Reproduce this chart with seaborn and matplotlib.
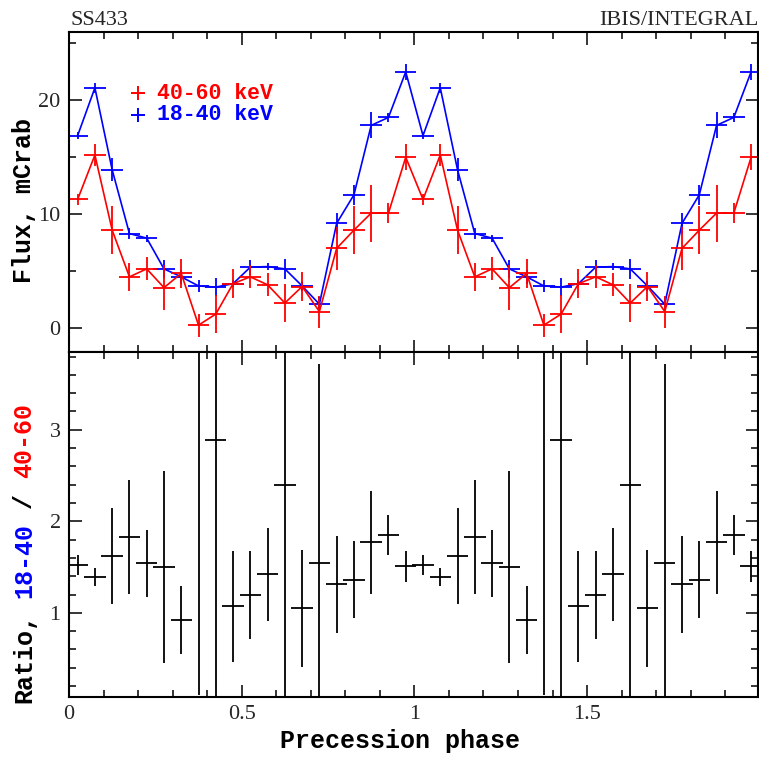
import numpy as np
import pandas as pd
import matplotlib
matplotlib.use("Agg")
import matplotlib.pyplot as plt
import seaborn as sns
from matplotlib.ticker import MultipleLocator, FixedLocator

# ---- data (one precession cycle, 20 phase bins; plotted twice) ----
phase = [0.025, 0.075, 0.125, 0.175, 0.225, 0.275, 0.325, 0.375, 0.425, 0.475,
         0.525, 0.575, 0.625, 0.675, 0.725, 0.775, 0.825, 0.875, 0.925, 0.975]
flux_40_60 = [11.3, 15.2, 8.6, 4.5, 5.2, 3.55, 4.8, 0.26, 1.23, 3.9,
              4.5, 3.8, 2.2, 3.65, 1.45, 7.0, 8.6, 10.1, 10.1, 15.0]
flux_40_60_err = [0.5, 1.0, 2.1, 1.2, 1.0, 1.95, 1.3, 1.0, 1.7, 1.3,
                  1.0, 1.0, 1.7, 1.3, 1.4, 1.9, 2.1, 2.5, 0.9, 1.15]
flux_18_40 = [16.9, 21.1, 13.9, 8.3, 7.9, 5.2, 4.5, 3.7, 3.6, 3.9,
              5.35, 5.4, 5.2, 3.7, 2.1, 9.2, 11.7, 17.8, 18.5, 22.5]
flux_18_40_err = [0.3, 0.45, 1.0, 0.5, 0.3, 0.8, 0.6, 0.5, 0.8, 0.3,
                  0.65, 0.3, 0.85, 0.4, 0.65, 0.9, 0.9, 1.15, 0.4, 0.7]
ratio = [1.52, 1.39, 1.62, 1.83, 1.54, 1.50, 0.92, 14.0, 2.89, 1.07,
         1.19, 1.42, 2.40, 1.05, 1.54, 1.31, 1.36, 1.77, 1.85, 1.51]
ratio_err = [0.11, 0.10, 0.52, 0.62, 0.37, 1.05, 0.37, 13.9, 3.0, 0.61,
             0.48, 0.51, 2.5, 0.64, 2.18, 0.53, 0.42, 0.56, 0.215, 0.17]
bin_half_width = 0.031

x_ticks = [0, 0.5, 1, 1.5]
x_tick_labels = ["0", "0.5", "1", "1.5"]
flux_ticks = [0, 10, 20]
ratio_ticks = [1, 2, 3]

# two cycles
ph2 = phase + [p + 1 for p in phase]
df = pd.DataFrame({
    "phase": ph2,
    "hard": flux_40_60 * 2, "hard_err": flux_40_60_err * 2,
    "soft": flux_18_40 * 2, "soft_err": flux_18_40_err * 2,
    "ratio": ratio * 2, "ratio_err": ratio_err * 2,
})

sns.set_theme(style="ticks")
plt.rcParams["font.family"] = ["Liberation Serif", "DejaVu Serif"]
plt.rcParams["axes.linewidth"] = 1.5

W, H = 759, 757
fig = plt.figure(figsize=(W / 100, H / 100), dpi=100)
fig.patch.set_facecolor("white")

L, R = 69, 758
ax1 = fig.add_axes([L / W, 1 - 352 / H, (R - L) / W, (352 - 32) / H])
ax2 = fig.add_axes([L / W, 1 - 697 / H, (R - L) / W, (697 - 352) / H])

RED, BLUE = "#ff0000", "#0000ff"

# upper panel
for col, c in (("soft", BLUE), ("hard", RED)):
    sns.lineplot(data=df, x="phase", y=col, color=c, lw=1.2, ax=ax1,
                 estimator=None, sort=True, legend=False)
    ax1.errorbar(df["phase"], df[col], yerr=df[col + "_err"], xerr=bin_half_width,
                 fmt="none", ecolor=c, elinewidth=1.3, capsize=0)

# lower panel
ax2.errorbar(df["phase"], df["ratio"], yerr=df["ratio_err"], xerr=bin_half_width,
             fmt="none", ecolor="black", elinewidth=1.3, capsize=0)

ax1.set_xlim(0, 1.995)
ax2.set_xlim(0, 1.995)
ax1.set_ylim(-2.1, 26)
ax2.set_ylim(0.08, 3.85)

for ax in (ax1, ax2):
    ax.set_xlabel("")
    ax.set_ylabel("")
    ax.xaxis.set_major_locator(FixedLocator(x_ticks))
    ax.xaxis.set_minor_locator(MultipleLocator(0.1))
    ax.tick_params(which="both", direction="in", top=True, right=True,
                   bottom=True, left=True, width=1.1, color="black")
    ax.tick_params(which="major", length=9)
    ax.tick_params(which="minor", length=5)
    ax.tick_params(labelsize=16, pad=6)
    for s in ax.spines.values():
        s.set_visible(True)
        s.set_color("black")
        s.set_linewidth(1.5)

ax1.yaxis.set_major_locator(FixedLocator(flux_ticks))
ax1.yaxis.set_minor_locator(MultipleLocator(5))
ax1.set_yticklabels([str(t) for t in flux_ticks])
ax1.tick_params(labelbottom=False)

ax2.yaxis.set_major_locator(FixedLocator(ratio_ticks))
ax2.yaxis.set_minor_locator(MultipleLocator(0.2))
ax2.set_yticklabels([str(t) for t in ratio_ticks])
ax2.set_xticklabels(x_tick_labels)

# legend (marker + text)
mono = dict(family=["Liberation Mono", "DejaVu Sans Mono"], weight="bold")
for (lab, c, yfrac) in (("40-60 keV", RED, 0.809), ("18-40 keV", BLUE, 0.741)):
    ax1.plot([0.100], [yfrac], marker="+", ms=10, mew=1.4, color=c,
             transform=ax1.transAxes, clip_on=False)
    ax1.text(0.127, yfrac, lab, color=c, fontsize=15.5, va="center", ha="left",
             transform=ax1.transAxes, **mono)

# titles
fig.text(70 / W, 1 - 25 / H, "SS433", fontsize=16, ha="left", va="baseline")
fig.text(758 / W, 1 - 25 / H, "IBIS/INTEGRAL", fontsize=16, ha="right", va="baseline")

# axis labels (monospace, placed by character cells)
fs = 18
cell = 0.6 * fs * 100 / 72  # px per char
xb = 31 / W
fig.text(xb, 1 - 283 / H, "Flux, mCrab", rotation=90, rotation_mode="anchor",
         ha="left", va="baseline", fontsize=fs, color="black", **mono)
y0 = 703
for txt, start, c in (("Ratio,", 0, "black"), ("18-40", 7, BLUE),
                      ("/", 13, "black"), ("40-60", 15, RED)):
    fig.text(xb, 1 - (y0 - start * cell) / H, txt, rotation=90, rotation_mode="anchor",
             ha="left", va="baseline", fontsize=fs, color=c, **mono)

fig.text(400 / W, 1 - 748 / H, "Precession phase", ha="center", va="baseline",
         fontsize=fs, color="black", **mono)

fig.savefig("out.png", dpi=100, facecolor="white")
